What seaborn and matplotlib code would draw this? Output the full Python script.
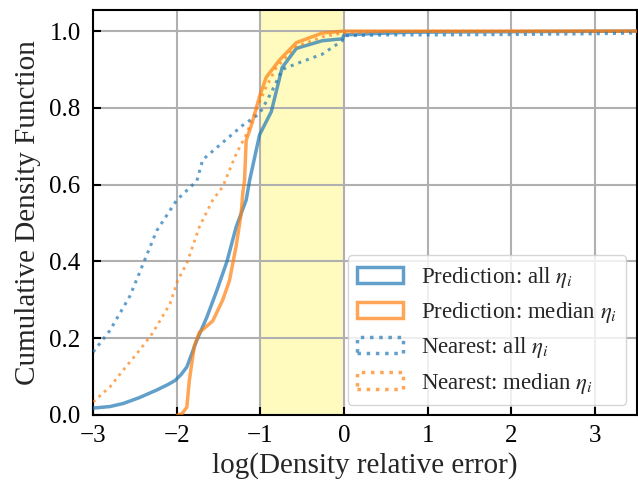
import matplotlib
matplotlib.use("Agg")
import matplotlib.pyplot as plt
import seaborn as sns
import pandas as pd
from matplotlib.patches import Patch

# Curves (x = log relative error, y = cumulative fraction)
pred_all_x = [-3.0, -2.8, -2.64, -2.45, -2.24, -2.1, -2.02, -1.95, -1.88, -1.82, -1.76, -1.64,
              -1.52, -1.40, -1.29, -1.17, -1.13, -1.01, -0.87, -0.74, -0.57, -0.26, -0.02,
              0.0, 0.3, 0.77, 1.5, 2.5, 3.5]
pred_all_y = [0.018, 0.022, 0.03, 0.045, 0.065, 0.08, 0.09, 0.105, 0.125, 0.16, 0.195, 0.255,
              0.325, 0.40, 0.49, 0.56, 0.61, 0.73, 0.79, 0.905, 0.955, 0.975, 0.98,
              0.99, 0.993, 0.997, 0.998, 0.999, 1.0]

pred_med_x = [-1.99, -1.94, -1.88, -1.85, -1.79, -1.73, -1.57, -1.45, -1.37, -1.29, -1.23, -1.21,
              -1.19, -1.17, -1.10, -1.01, -0.93, -0.77, -0.57, -0.26, 0.0, 1.0, 2.0, 3.5]
pred_med_y = [0.0, 0.003, 0.02, 0.09, 0.18, 0.215, 0.245, 0.30, 0.35, 0.44, 0.525, 0.58,
              0.61, 0.715, 0.76, 0.83, 0.88, 0.925, 0.97, 0.995, 1.0, 1.0, 1.0, 1.0]

near_all_x = [-3.0, -2.8, -2.56, -2.40, -2.24, -2.0, -1.76, -1.69, -1.45, -1.21, -1.01, -0.87,
              -0.74, -0.57, -0.26, -0.02, 0.0, 0.5, 1.0, 2.0, 3.0, 3.5]
near_all_y = [0.164, 0.22, 0.31, 0.395, 0.48, 0.56, 0.61, 0.665, 0.71, 0.755, 0.785, 0.84,
              0.90, 0.915, 0.94, 0.975, 0.988, 0.99, 0.99, 0.991, 0.993, 0.995]

near_med_x = [-3.0, -2.8, -2.64, -2.44, -2.29, -2.08, -1.99, -1.88, -1.73, -1.57, -1.45, -1.29,
              -1.17, -1.05, -0.93, -0.81, -0.57, -0.26, -0.02, 0.5, 1.5, 3.5]
near_med_y = [0.034, 0.073, 0.117, 0.17, 0.213, 0.29, 0.35, 0.395, 0.49, 0.56, 0.595, 0.68,
              0.73, 0.795, 0.855, 0.905, 0.96, 0.985, 0.995, 0.999, 1.0, 1.0]

labels = [r"Prediction: all $\eta_i$", r"Prediction: median $\eta_i$",
          r"Nearest: all $\eta_i$", r"Nearest: median $\eta_i$"]
colors = ["#1f77b4", "#ff7f0e", "#1f77b4", "#ff7f0e"]
styles = ["-", "-", ":", ":"]
widths = [2.5, 2.5, 2.2, 2.0]

sns.set_style("white")
plt.rcParams["font.family"] = ["Liberation Serif", "DejaVu Serif"]
plt.rcParams["mathtext.fontset"] = "stix"

fig = plt.figure(figsize=(6.38, 4.88), dpi=100)
ax = fig.add_axes([0.146, 0.1496, 0.852, 0.8299])

ax.axvspan(-1, 0, color="#fffbbf", alpha=1.0, zorder=0, lw=0)

series = [(pred_all_x, pred_all_y), (pred_med_x, pred_med_y),
          (near_all_x, near_all_y), (near_med_x, near_med_y)]
for (xs, ys), lab, c, ls, lw in zip(series, labels, colors, styles, widths):
    df = pd.DataFrame({"x": xs, "y": ys})
    sns.lineplot(data=df, x="x", y="y", ax=ax, color=c, linestyle=ls, lw=lw,
                 alpha=0.7, estimator=None, sort=False, zorder=3)

ax.set_xlim(-3, 3.5)
ax.set_ylim(0, 1.055)
ax.set_xticks([-3, -2, -1, 0, 1, 2, 3])
ax.set_yticks([0, 0.2, 0.4, 0.6, 0.8, 1.0])
ax.set_yticklabels(["0.0", "0.2", "0.4", "0.6", "0.8", "1.0"])
ax.set_xticklabels(["\u22123", "\u22122", "\u22121", "0", "1", "2", "3"])
ax.grid(True, color="#b0b0b0", lw=1.5, zorder=1)
ax.set_axisbelow(True)
for s in ax.spines.values():
    s.set_color("black")
    s.set_linewidth(1.5)
ax.tick_params(direction="in", length=6, width=1.5, labelsize=18, colors="black",
               left=True, bottom=True)
ax.tick_params(axis="y", pad=9)
ax.tick_params(axis="x", pad=7)
ax.set_xlabel("log(Density relative error)", fontsize=21, labelpad=4)
ax.set_ylabel("Cumulative Density Function", fontsize=21, labelpad=6)

handles = [Patch(facecolor="none", edgecolor=c, linestyle=ls, lw=2.5, alpha=0.7, label=l)
           for c, ls, l in zip(colors, styles, labels)]
ax.legend(handles=handles, loc="lower right", fontsize=16.5, frameon=True, fancybox=True,
          framealpha=0.8, edgecolor="#cccccc", handlelength=2.0, labelspacing=0.45,
          borderaxespad=0.45)

fig.savefig("out.png", dpi=100)
